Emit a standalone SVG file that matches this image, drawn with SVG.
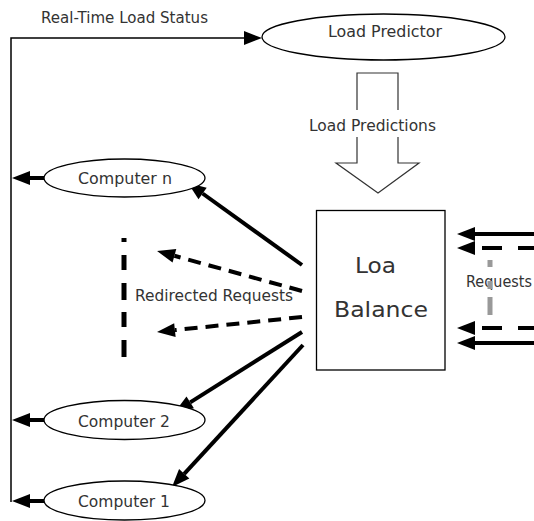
<svg xmlns="http://www.w3.org/2000/svg" width="534" height="521" viewBox="0 0 534 521">
<style>
  .shape { fill: #ffffff; stroke: #000000; stroke-width: 1.3; }
  .lbl { font-family: "DejaVu Sans", "Liberation Sans", sans-serif; font-size: 15px; fill: #333333; }
  .big { font-family: "DejaVu Sans", "Liberation Sans", sans-serif; font-size: 22px; fill: #333333; }
  .thin { fill: none; stroke: #000000; stroke-width: 1.5; }
  .thick { fill: none; stroke: #000000; stroke-width: 4; }
  .dash { fill: none; stroke: #000000; stroke-width: 4; stroke-dasharray: 13 8; }
  .hollow { fill: none; stroke: #333333; stroke-width: 1.2; }
</style>
<defs>
  <marker id="ah" markerUnits="userSpaceOnUse" markerWidth="19" markerHeight="15" refX="0" refY="7" orient="auto" overflow="visible">
    <path d="M0,0 L18,7 L0,14 z" fill="#000000"/>
  </marker>
</defs>
<rect x="0" y="0" width="534" height="521" fill="#ffffff"/>

<g id="connectors">
  <!-- real-time load status loop -->
  <path class="thin" d="M11,502 V38 H244" marker-end="url(#ah)"/>
  <text class="lbl" x="41" y="23" textLength="167" lengthAdjust="spacingAndGlyphs">Real-Time Load Status</text>
  <!-- computers to status line -->
  <path class="thick" d="M44,178 H30" marker-end="url(#ah)"/>
  <path class="thick" d="M44,420 H30" marker-end="url(#ah)"/>
  <path class="thick" d="M44,501 H30" marker-end="url(#ah)"/>
  <!-- load predictions hollow arrow -->
  <path class="hollow" d="M357,110 V73 H398 V110 M398,137 V163 H419 L378,193 L336,163 H357 V137"/>
  <text class="lbl" x="309" y="131" textLength="127" lengthAdjust="spacingAndGlyphs">Load Predictions</text>
  <!-- balancer to computers -->
  <path class="thick" d="M302,265 L202.6,193.5" marker-end="url(#ah)"/>
  <path class="thick" d="M302,332 L190.2,402.4" marker-end="url(#ah)"/>
  <path class="thick" d="M303,345 L184.2,473.8" marker-end="url(#ah)"/>
  <!-- redirected requests -->
  <path class="dash" d="M302,291 L174.4,255.8" marker-end="url(#ah)"/>
  <path class="dash" d="M302,317 L174.9,330.1" marker-end="url(#ah)"/>
  <path fill="none" stroke="#000000" stroke-width="5" stroke-dasharray="4 13 15 13 17 12 15 13 17" d="M124,238 V357"/>
  <text class="lbl" x="135" y="301" textLength="158" lengthAdjust="spacingAndGlyphs">Redirected Requests</text>
  <!-- incoming requests -->
  <path class="thick" d="M534,234 H475" marker-end="url(#ah)"/>
  <path class="thick" stroke-dasharray="16 16 20 11" d="M534,248 H475" marker-end="url(#ah)"/>
  <path class="thick" stroke-dasharray="16 16 20 11" d="M534,328 H475" marker-end="url(#ah)"/>
  <path class="thick" d="M534,343 H475" marker-end="url(#ah)"/>
  <text class="lbl" x="466" y="287" textLength="66" lengthAdjust="spacingAndGlyphs">Requests</text>
  <path fill="none" stroke="#999999" stroke-width="5" stroke-dasharray="7 14 8 8 18" d="M490,260 V315"/>
</g>

<g id="load-predictor">
  <ellipse class="shape" cx="383.5" cy="37" rx="121.5" ry="23"/>
  <text class="lbl" x="328" y="37" textLength="114" lengthAdjust="spacingAndGlyphs">Load Predictor</text>
</g>

<g id="load-balancer">
  <rect class="shape" x="316.5" y="210.5" width="128.5" height="159.5"/>
  <text class="big" x="355" y="273" textLength="41" lengthAdjust="spacingAndGlyphs">Loa</text>
  <text class="big" x="334" y="317" textLength="94" lengthAdjust="spacingAndGlyphs">Balance</text>
</g>

<g id="computer-n">
  <ellipse class="shape" cx="124.5" cy="178" rx="80.5" ry="19"/>
  <text class="lbl" x="78" y="184" textLength="94" lengthAdjust="spacingAndGlyphs">Computer n</text>
</g>

<g id="computer-2">
  <ellipse class="shape" cx="124.5" cy="420" rx="80.5" ry="19.5"/>
  <text class="lbl" x="78" y="427" textLength="92" lengthAdjust="spacingAndGlyphs">Computer 2</text>
</g>

<g id="computer-1">
  <ellipse class="shape" cx="124.5" cy="500.5" rx="80.5" ry="19.5"/>
  <text class="lbl" x="78" y="507" textLength="92" lengthAdjust="spacingAndGlyphs">Computer 1</text>
</g>
</svg>
